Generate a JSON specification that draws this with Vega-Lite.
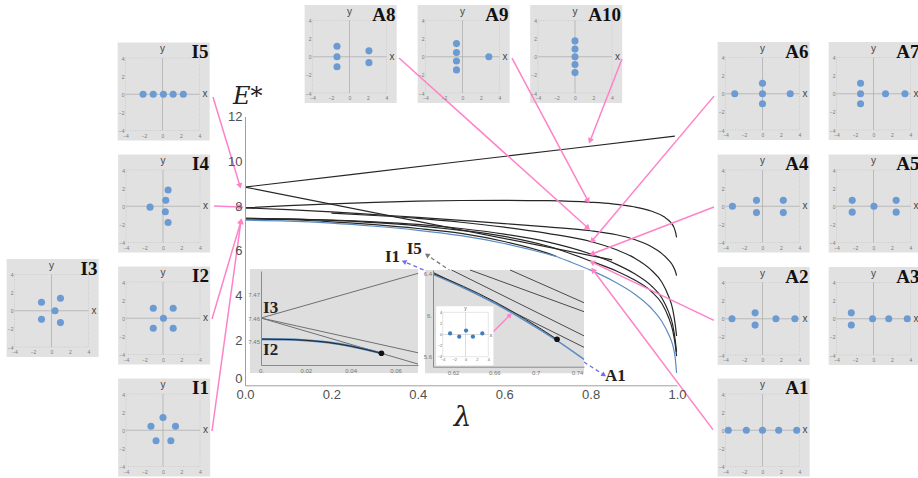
{
"$schema":"https://vega.github.io/schema/vega-lite/v6.json",
"width":918,"height":478,"autosize":{"type":"none"},"padding":0,"background":"white",
"config":{"numberFormat":"~g","view":{"stroke":null},"axis":{"labelFontSize":5,"labelColor":"#7a7a7a","domain":false,"ticks":false,"grid":false,"labelPadding":1.5,"zindex":1,"labelFlush":false,"labelOverlap":false,"labelFont":"Liberation Sans"},"axisX":{"labelPadding":2.5},"text":{"font":"Liberation Sans"}},
"resolve":{"scale":{"x":"independent","y":"independent"}},
"layer":[
{"layer":[
 {"data":{"values":[{}]},"mark":{"type":"rect","color":"#e1e1e1"},"encoding":{"x":{"datum":-4.85},"x2":{"datum":5.1},"y":{"datum":-5.1},"y2":{"datum":5.7}}},
 {"data":{"values":[{}]},"mark":{"type":"rect","filled":false,"color":"#bdbdbd","strokeWidth":0.6,"strokeDash":[1,1.5]},"encoding":{"x":{"datum":-4},"x2":{"datum":4},"y":{"datum":-4},"y2":{"datum":4}}},
 {"data":{"values":[{}]},"mark":{"type":"rule","color":"#a9a9a9","strokeWidth":0.7},"encoding":{"x":{"datum":0},"y":{"datum":-4},"y2":{"datum":4}}},
 {"data":{"values":[{}]},"mark":{"type":"rule","color":"#a9a9a9","strokeWidth":0.7},"encoding":{"x":{"datum":-4},"x2":{"datum":4},"y":{"datum":0}}},
 {"data":{"values":[{"x":-1.08,"y":0.93},{"x":0.97,"y":1.37},{"x":0.38,"y":0},{"x":-1.08,"y":-0.95},{"x":0.97,"y":-1.31}]},"mark":{"type":"circle","color":"#6b9bd2","opacity":1,"size":50},"encoding":{"x":{"field":"x","type":"quantitative","scale":{"domain":[-4,4],"range":[14.5,88.5],"nice":false,"zero":false},"axis":{"orient":"bottom","offset":-131,"values":[-4,-2,0,2,4],"title":null,"zindex":1}},"y":{"field":"y","type":"quantitative","scale":{"domain":[-4,4],"range":[347,274.5],"nice":false,"zero":false},"axis":{"orient":"left","offset":-14.5,"values":[-4,-2,0,2,4],"title":null,"zindex":1}}}},
 {"data":{"values":[{}]},"mark":{"type":"text","text":"y","fontSize":10,"color":"#444","baseline":"bottom","dy":-4},"encoding":{"x":{"datum":0},"y":{"datum":4}}},
 {"data":{"values":[{}]},"mark":{"type":"text","text":"x","fontSize":10,"color":"#444","align":"left","baseline":"middle","dx":3},"encoding":{"x":{"datum":4},"y":{"datum":0}}},
 {"data":{"values":[{}]},"mark":{"type":"text","text":"I3","font":"Liberation Serif","fontWeight":"bold","fontSize":19,"color":"#111","align":"right","baseline":"alphabetic","dx":9},"encoding":{"x":{"datum":4},"y":{"datum":4}}}
]},
{"layer":[
 {"data":{"values":[{}]},"mark":{"type":"rect","color":"#e1e1e1"},"encoding":{"x":{"datum":-4.85},"x2":{"datum":5.1},"y":{"datum":-5.1},"y2":{"datum":5.7}}},
 {"data":{"values":[{}]},"mark":{"type":"rect","filled":false,"color":"#bdbdbd","strokeWidth":0.6,"strokeDash":[1,1.5]},"encoding":{"x":{"datum":-4},"x2":{"datum":4},"y":{"datum":-4},"y2":{"datum":4}}},
 {"data":{"values":[{}]},"mark":{"type":"rule","color":"#a9a9a9","strokeWidth":0.7},"encoding":{"x":{"datum":0},"y":{"datum":-4},"y2":{"datum":4}}},
 {"data":{"values":[{}]},"mark":{"type":"rule","color":"#a9a9a9","strokeWidth":0.7},"encoding":{"x":{"datum":-4},"x2":{"datum":4},"y":{"datum":0}}},
 {"data":{"values":[{"x":-2.1,"y":0},{"x":-1.0,"y":0},{"x":0.1,"y":0},{"x":1.15,"y":0},{"x":2.25,"y":0}]},"mark":{"type":"circle","color":"#6b9bd2","opacity":1,"size":50},"encoding":{"x":{"field":"x","type":"quantitative","scale":{"domain":[-4,4],"range":[125.5,199.5],"nice":false,"zero":false},"axis":{"orient":"bottom","offset":-347.5,"values":[-4,-2,0,2,4],"title":null,"zindex":1}},"y":{"field":"y","type":"quantitative","scale":{"domain":[-4,4],"range":[130.5,58],"nice":false,"zero":false},"axis":{"orient":"left","offset":-125.5,"values":[-4,-2,0,2,4],"title":null,"zindex":1}}}},
 {"data":{"values":[{}]},"mark":{"type":"text","text":"y","fontSize":10,"color":"#444","baseline":"bottom","dy":-4},"encoding":{"x":{"datum":0},"y":{"datum":4}}},
 {"data":{"values":[{}]},"mark":{"type":"text","text":"x","fontSize":10,"color":"#444","align":"left","baseline":"middle","dx":3},"encoding":{"x":{"datum":4},"y":{"datum":0}}},
 {"data":{"values":[{}]},"mark":{"type":"text","text":"I5","font":"Liberation Serif","fontWeight":"bold","fontSize":19,"color":"#111","align":"right","baseline":"alphabetic","dx":9},"encoding":{"x":{"datum":4},"y":{"datum":4}}}
]},
{"layer":[
 {"data":{"values":[{}]},"mark":{"type":"rect","color":"#e1e1e1"},"encoding":{"x":{"datum":-4.85},"x2":{"datum":5.1},"y":{"datum":-5.1},"y2":{"datum":5.7}}},
 {"data":{"values":[{}]},"mark":{"type":"rect","filled":false,"color":"#bdbdbd","strokeWidth":0.6,"strokeDash":[1,1.5]},"encoding":{"x":{"datum":-4},"x2":{"datum":4},"y":{"datum":-4},"y2":{"datum":4}}},
 {"data":{"values":[{}]},"mark":{"type":"rule","color":"#a9a9a9","strokeWidth":0.7},"encoding":{"x":{"datum":0},"y":{"datum":-4},"y2":{"datum":4}}},
 {"data":{"values":[{}]},"mark":{"type":"rule","color":"#a9a9a9","strokeWidth":0.7},"encoding":{"x":{"datum":-4},"x2":{"datum":4},"y":{"datum":0}}},
 {"data":{"values":[{"x":-1.4,"y":-0.1},{"x":0.55,"y":1.8},{"x":0.3,"y":0.65},{"x":0.25,"y":-0.6},{"x":0.55,"y":-1.8}]},"mark":{"type":"circle","color":"#6b9bd2","opacity":1,"size":50},"encoding":{"x":{"field":"x","type":"quantitative","scale":{"domain":[-4,4],"range":[126,200],"nice":false,"zero":false},"axis":{"orient":"bottom","offset":-235.5,"values":[-4,-2,0,2,4],"title":null,"zindex":1}},"y":{"field":"y","type":"quantitative","scale":{"domain":[-4,4],"range":[242.5,170],"nice":false,"zero":false},"axis":{"orient":"left","offset":-126,"values":[-4,-2,0,2,4],"title":null,"zindex":1}}}},
 {"data":{"values":[{}]},"mark":{"type":"text","text":"y","fontSize":10,"color":"#444","baseline":"bottom","dy":-4},"encoding":{"x":{"datum":0},"y":{"datum":4}}},
 {"data":{"values":[{}]},"mark":{"type":"text","text":"x","fontSize":10,"color":"#444","align":"left","baseline":"middle","dx":3},"encoding":{"x":{"datum":4},"y":{"datum":0}}},
 {"data":{"values":[{}]},"mark":{"type":"text","text":"I4","font":"Liberation Serif","fontWeight":"bold","fontSize":19,"color":"#111","align":"right","baseline":"alphabetic","dx":9},"encoding":{"x":{"datum":4},"y":{"datum":4}}}
]},
{"layer":[
 {"data":{"values":[{}]},"mark":{"type":"rect","color":"#e1e1e1"},"encoding":{"x":{"datum":-4.85},"x2":{"datum":5.1},"y":{"datum":-5.1},"y2":{"datum":5.7}}},
 {"data":{"values":[{}]},"mark":{"type":"rect","filled":false,"color":"#bdbdbd","strokeWidth":0.6,"strokeDash":[1,1.5]},"encoding":{"x":{"datum":-4},"x2":{"datum":4},"y":{"datum":-4},"y2":{"datum":4}}},
 {"data":{"values":[{}]},"mark":{"type":"rule","color":"#a9a9a9","strokeWidth":0.7},"encoding":{"x":{"datum":0},"y":{"datum":-4},"y2":{"datum":4}}},
 {"data":{"values":[{}]},"mark":{"type":"rule","color":"#a9a9a9","strokeWidth":0.7},"encoding":{"x":{"datum":-4},"x2":{"datum":4},"y":{"datum":0}}},
 {"data":{"values":[{"x":-1.05,"y":1.1},{"x":1.1,"y":1.1},{"x":0.05,"y":0},{"x":-1.05,"y":-1.1},{"x":1.1,"y":-1.1}]},"mark":{"type":"circle","color":"#6b9bd2","opacity":1,"size":50},"encoding":{"x":{"field":"x","type":"quantitative","scale":{"domain":[-4,4],"range":[126,200],"nice":false,"zero":false},"axis":{"orient":"bottom","offset":-123.5,"values":[-4,-2,0,2,4],"title":null,"zindex":1}},"y":{"field":"y","type":"quantitative","scale":{"domain":[-4,4],"range":[354.5,282],"nice":false,"zero":false},"axis":{"orient":"left","offset":-126,"values":[-4,-2,0,2,4],"title":null,"zindex":1}}}},
 {"data":{"values":[{}]},"mark":{"type":"text","text":"y","fontSize":10,"color":"#444","baseline":"bottom","dy":-4},"encoding":{"x":{"datum":0},"y":{"datum":4}}},
 {"data":{"values":[{}]},"mark":{"type":"text","text":"x","fontSize":10,"color":"#444","align":"left","baseline":"middle","dx":3},"encoding":{"x":{"datum":4},"y":{"datum":0}}},
 {"data":{"values":[{}]},"mark":{"type":"text","text":"I2","font":"Liberation Serif","fontWeight":"bold","fontSize":19,"color":"#111","align":"right","baseline":"alphabetic","dx":9},"encoding":{"x":{"datum":4},"y":{"datum":4}}}
]},
{"layer":[
 {"data":{"values":[{}]},"mark":{"type":"rect","color":"#e1e1e1"},"encoding":{"x":{"datum":-4.85},"x2":{"datum":5.1},"y":{"datum":-5.1},"y2":{"datum":5.7}}},
 {"data":{"values":[{}]},"mark":{"type":"rect","filled":false,"color":"#bdbdbd","strokeWidth":0.6,"strokeDash":[1,1.5]},"encoding":{"x":{"datum":-4},"x2":{"datum":4},"y":{"datum":-4},"y2":{"datum":4}}},
 {"data":{"values":[{}]},"mark":{"type":"rule","color":"#a9a9a9","strokeWidth":0.7},"encoding":{"x":{"datum":0},"y":{"datum":-4},"y2":{"datum":4}}},
 {"data":{"values":[{}]},"mark":{"type":"rule","color":"#a9a9a9","strokeWidth":0.7},"encoding":{"x":{"datum":-4},"x2":{"datum":4},"y":{"datum":0}}},
 {"data":{"values":[{"x":0,"y":1.4},{"x":-1.3,"y":0.45},{"x":1.35,"y":0.45},{"x":-0.75,"y":-1.15},{"x":0.85,"y":-1.15}]},"mark":{"type":"circle","color":"#6b9bd2","opacity":1,"size":50},"encoding":{"x":{"field":"x","type":"quantitative","scale":{"domain":[-4,4],"range":[126,200],"nice":false,"zero":false},"axis":{"orient":"bottom","offset":-11.5,"values":[-4,-2,0,2,4],"title":null,"zindex":1}},"y":{"field":"y","type":"quantitative","scale":{"domain":[-4,4],"range":[466.5,394],"nice":false,"zero":false},"axis":{"orient":"left","offset":-126,"values":[-4,-2,0,2,4],"title":null,"zindex":1}}}},
 {"data":{"values":[{}]},"mark":{"type":"text","text":"y","fontSize":10,"color":"#444","baseline":"bottom","dy":-4},"encoding":{"x":{"datum":0},"y":{"datum":4}}},
 {"data":{"values":[{}]},"mark":{"type":"text","text":"x","fontSize":10,"color":"#444","align":"left","baseline":"middle","dx":3},"encoding":{"x":{"datum":4},"y":{"datum":0}}},
 {"data":{"values":[{}]},"mark":{"type":"text","text":"I1","font":"Liberation Serif","fontWeight":"bold","fontSize":19,"color":"#111","align":"right","baseline":"alphabetic","dx":9},"encoding":{"x":{"datum":4},"y":{"datum":4}}}
]},
{"layer":[
 {"data":{"values":[{}]},"mark":{"type":"rect","color":"#e1e1e1"},"encoding":{"x":{"datum":-4.85},"x2":{"datum":5.1},"y":{"datum":-5.1},"y2":{"datum":5.7}}},
 {"data":{"values":[{}]},"mark":{"type":"rect","filled":false,"color":"#bdbdbd","strokeWidth":0.6,"strokeDash":[1,1.5]},"encoding":{"x":{"datum":-4},"x2":{"datum":4},"y":{"datum":-4},"y2":{"datum":4}}},
 {"data":{"values":[{}]},"mark":{"type":"rule","color":"#a9a9a9","strokeWidth":0.7},"encoding":{"x":{"datum":0},"y":{"datum":-4},"y2":{"datum":4}}},
 {"data":{"values":[{}]},"mark":{"type":"rule","color":"#a9a9a9","strokeWidth":0.7},"encoding":{"x":{"datum":-4},"x2":{"datum":4},"y":{"datum":0}}},
 {"data":{"values":[{"x":-1.35,"y":1.15},{"x":-1.35,"y":0},{"x":-1.35,"y":-1.1},{"x":2.1,"y":0.65},{"x":2.1,"y":-0.65}]},"mark":{"type":"circle","color":"#6b9bd2","opacity":1,"size":50},"encoding":{"x":{"field":"x","type":"quantitative","scale":{"domain":[-4,4],"range":[312.5,386.5],"nice":false,"zero":false},"axis":{"orient":"bottom","offset":-385,"values":[-4,-2,0,2,4],"title":null,"zindex":1}},"y":{"field":"y","type":"quantitative","scale":{"domain":[-4,4],"range":[93,20.5],"nice":false,"zero":false},"axis":{"orient":"left","offset":-312.5,"values":[-4,-2,0,2,4],"title":null,"zindex":1}}}},
 {"data":{"values":[{}]},"mark":{"type":"text","text":"y","fontSize":10,"color":"#444","baseline":"bottom","dy":-4},"encoding":{"x":{"datum":0},"y":{"datum":4}}},
 {"data":{"values":[{}]},"mark":{"type":"text","text":"x","fontSize":10,"color":"#444","align":"left","baseline":"middle","dx":3},"encoding":{"x":{"datum":4},"y":{"datum":0}}},
 {"data":{"values":[{}]},"mark":{"type":"text","text":"A8","font":"Liberation Serif","fontWeight":"bold","fontSize":19,"color":"#111","align":"right","baseline":"alphabetic","dx":9},"encoding":{"x":{"datum":4},"y":{"datum":4}}}
]},
{"layer":[
 {"data":{"values":[{}]},"mark":{"type":"rect","color":"#e1e1e1"},"encoding":{"x":{"datum":-4.85},"x2":{"datum":5.1},"y":{"datum":-5.1},"y2":{"datum":5.7}}},
 {"data":{"values":[{}]},"mark":{"type":"rect","filled":false,"color":"#bdbdbd","strokeWidth":0.6,"strokeDash":[1,1.5]},"encoding":{"x":{"datum":-4},"x2":{"datum":4},"y":{"datum":-4},"y2":{"datum":4}}},
 {"data":{"values":[{}]},"mark":{"type":"rule","color":"#a9a9a9","strokeWidth":0.7},"encoding":{"x":{"datum":0},"y":{"datum":-4},"y2":{"datum":4}}},
 {"data":{"values":[{}]},"mark":{"type":"rule","color":"#a9a9a9","strokeWidth":0.7},"encoding":{"x":{"datum":-4},"x2":{"datum":4},"y":{"datum":0}}},
 {"data":{"values":[{"x":-0.65,"y":1.45},{"x":-0.65,"y":0.47},{"x":-0.65,"y":-0.47},{"x":-0.65,"y":-1.45},{"x":2.85,"y":0}]},"mark":{"type":"circle","color":"#6b9bd2","opacity":1,"size":50},"encoding":{"x":{"field":"x","type":"quantitative","scale":{"domain":[-4,4],"range":[425.5,499.5],"nice":false,"zero":false},"axis":{"orient":"bottom","offset":-385,"values":[-4,-2,0,2,4],"title":null,"zindex":1}},"y":{"field":"y","type":"quantitative","scale":{"domain":[-4,4],"range":[93,20.5],"nice":false,"zero":false},"axis":{"orient":"left","offset":-425.5,"values":[-4,-2,0,2,4],"title":null,"zindex":1}}}},
 {"data":{"values":[{}]},"mark":{"type":"text","text":"y","fontSize":10,"color":"#444","baseline":"bottom","dy":-4},"encoding":{"x":{"datum":0},"y":{"datum":4}}},
 {"data":{"values":[{}]},"mark":{"type":"text","text":"x","fontSize":10,"color":"#444","align":"left","baseline":"middle","dx":3},"encoding":{"x":{"datum":4},"y":{"datum":0}}},
 {"data":{"values":[{}]},"mark":{"type":"text","text":"A9","font":"Liberation Serif","fontWeight":"bold","fontSize":19,"color":"#111","align":"right","baseline":"alphabetic","dx":9},"encoding":{"x":{"datum":4},"y":{"datum":4}}}
]},
{"layer":[
 {"data":{"values":[{}]},"mark":{"type":"rect","color":"#e1e1e1"},"encoding":{"x":{"datum":-4.85},"x2":{"datum":5.1},"y":{"datum":-5.1},"y2":{"datum":5.7}}},
 {"data":{"values":[{}]},"mark":{"type":"rect","filled":false,"color":"#bdbdbd","strokeWidth":0.6,"strokeDash":[1,1.5]},"encoding":{"x":{"datum":-4},"x2":{"datum":4},"y":{"datum":-4},"y2":{"datum":4}}},
 {"data":{"values":[{}]},"mark":{"type":"rule","color":"#a9a9a9","strokeWidth":0.7},"encoding":{"x":{"datum":0},"y":{"datum":-4},"y2":{"datum":4}}},
 {"data":{"values":[{}]},"mark":{"type":"rule","color":"#a9a9a9","strokeWidth":0.7},"encoding":{"x":{"datum":-4},"x2":{"datum":4},"y":{"datum":0}}},
 {"data":{"values":[{"x":0,"y":1.75},{"x":0,"y":0.85},{"x":0,"y":0},{"x":0,"y":-0.85},{"x":0,"y":-1.75}]},"mark":{"type":"circle","color":"#6b9bd2","opacity":1,"size":50},"encoding":{"x":{"field":"x","type":"quantitative","scale":{"domain":[-4,4],"range":[538,612],"nice":false,"zero":false},"axis":{"orient":"bottom","offset":-385,"values":[-4,-2,0,2,4],"title":null,"zindex":1}},"y":{"field":"y","type":"quantitative","scale":{"domain":[-4,4],"range":[93,20.5],"nice":false,"zero":false},"axis":{"orient":"left","offset":-538,"values":[-4,-2,0,2,4],"title":null,"zindex":1}}}},
 {"data":{"values":[{}]},"mark":{"type":"text","text":"y","fontSize":10,"color":"#444","baseline":"bottom","dy":-4},"encoding":{"x":{"datum":0},"y":{"datum":4}}},
 {"data":{"values":[{}]},"mark":{"type":"text","text":"x","fontSize":10,"color":"#444","align":"left","baseline":"middle","dx":3},"encoding":{"x":{"datum":4},"y":{"datum":0}}},
 {"data":{"values":[{}]},"mark":{"type":"text","text":"A10","font":"Liberation Serif","fontWeight":"bold","fontSize":19,"color":"#111","align":"right","baseline":"alphabetic","dx":9},"encoding":{"x":{"datum":4},"y":{"datum":4}}}
]},
{"layer":[
 {"data":{"values":[{}]},"mark":{"type":"rect","color":"#e1e1e1"},"encoding":{"x":{"datum":-4.85},"x2":{"datum":5.1},"y":{"datum":-5.1},"y2":{"datum":5.7}}},
 {"data":{"values":[{}]},"mark":{"type":"rect","filled":false,"color":"#bdbdbd","strokeWidth":0.6,"strokeDash":[1,1.5]},"encoding":{"x":{"datum":-4},"x2":{"datum":4},"y":{"datum":-4},"y2":{"datum":4}}},
 {"data":{"values":[{}]},"mark":{"type":"rule","color":"#a9a9a9","strokeWidth":0.7},"encoding":{"x":{"datum":0},"y":{"datum":-4},"y2":{"datum":4}}},
 {"data":{"values":[{}]},"mark":{"type":"rule","color":"#a9a9a9","strokeWidth":0.7},"encoding":{"x":{"datum":-4},"x2":{"datum":4},"y":{"datum":0}}},
 {"data":{"values":[{"x":-3.0,"y":0},{"x":0,"y":1.15},{"x":0,"y":0},{"x":0,"y":-1.1},{"x":3.0,"y":0}]},"mark":{"type":"circle","color":"#6b9bd2","opacity":1,"size":50},"encoding":{"x":{"field":"x","type":"quantitative","scale":{"domain":[-4,4],"range":[725.5,799.5],"nice":false,"zero":false},"axis":{"orient":"bottom","offset":-348,"values":[-4,-2,0,2,4],"title":null,"zindex":1}},"y":{"field":"y","type":"quantitative","scale":{"domain":[-4,4],"range":[130,57.5],"nice":false,"zero":false},"axis":{"orient":"left","offset":-725.5,"values":[-4,-2,0,2,4],"title":null,"zindex":1}}}},
 {"data":{"values":[{}]},"mark":{"type":"text","text":"y","fontSize":10,"color":"#444","baseline":"bottom","dy":-4},"encoding":{"x":{"datum":0},"y":{"datum":4}}},
 {"data":{"values":[{}]},"mark":{"type":"text","text":"x","fontSize":10,"color":"#444","align":"left","baseline":"middle","dx":3},"encoding":{"x":{"datum":4},"y":{"datum":0}}},
 {"data":{"values":[{}]},"mark":{"type":"text","text":"A6","font":"Liberation Serif","fontWeight":"bold","fontSize":19,"color":"#111","align":"right","baseline":"alphabetic","dx":9},"encoding":{"x":{"datum":4},"y":{"datum":4}}}
]},
{"layer":[
 {"data":{"values":[{}]},"mark":{"type":"rect","color":"#e1e1e1"},"encoding":{"x":{"datum":-4.85},"x2":{"datum":5.1},"y":{"datum":-5.1},"y2":{"datum":5.7}}},
 {"data":{"values":[{}]},"mark":{"type":"rect","filled":false,"color":"#bdbdbd","strokeWidth":0.6,"strokeDash":[1,1.5]},"encoding":{"x":{"datum":-4},"x2":{"datum":4},"y":{"datum":-4},"y2":{"datum":4}}},
 {"data":{"values":[{}]},"mark":{"type":"rule","color":"#a9a9a9","strokeWidth":0.7},"encoding":{"x":{"datum":0},"y":{"datum":-4},"y2":{"datum":4}}},
 {"data":{"values":[{}]},"mark":{"type":"rule","color":"#a9a9a9","strokeWidth":0.7},"encoding":{"x":{"datum":-4},"x2":{"datum":4},"y":{"datum":0}}},
 {"data":{"values":[{"x":-1.4,"y":1.15},{"x":-1.4,"y":0},{"x":-1.4,"y":-1.1},{"x":1.3,"y":0},{"x":3.4,"y":0}]},"mark":{"type":"circle","color":"#6b9bd2","opacity":1,"size":50},"encoding":{"x":{"field":"x","type":"quantitative","scale":{"domain":[-4,4],"range":[836.5,910.5],"nice":false,"zero":false},"axis":{"orient":"bottom","offset":-348,"values":[-4,-2,0,2,4],"title":null,"zindex":1}},"y":{"field":"y","type":"quantitative","scale":{"domain":[-4,4],"range":[130,57.5],"nice":false,"zero":false},"axis":{"orient":"left","offset":-836.5,"values":[-4,-2,0,2,4],"title":null,"zindex":1}}}},
 {"data":{"values":[{}]},"mark":{"type":"text","text":"y","fontSize":10,"color":"#444","baseline":"bottom","dy":-4},"encoding":{"x":{"datum":0},"y":{"datum":4}}},
 {"data":{"values":[{}]},"mark":{"type":"text","text":"x","fontSize":10,"color":"#444","align":"left","baseline":"middle","dx":3},"encoding":{"x":{"datum":4},"y":{"datum":0}}},
 {"data":{"values":[{}]},"mark":{"type":"text","text":"A7","font":"Liberation Serif","fontWeight":"bold","fontSize":19,"color":"#111","align":"right","baseline":"alphabetic","dx":9},"encoding":{"x":{"datum":4},"y":{"datum":4}}}
]},
{"layer":[
 {"data":{"values":[{}]},"mark":{"type":"rect","color":"#e1e1e1"},"encoding":{"x":{"datum":-4.85},"x2":{"datum":5.1},"y":{"datum":-5.1},"y2":{"datum":5.7}}},
 {"data":{"values":[{}]},"mark":{"type":"rect","filled":false,"color":"#bdbdbd","strokeWidth":0.6,"strokeDash":[1,1.5]},"encoding":{"x":{"datum":-4},"x2":{"datum":4},"y":{"datum":-4},"y2":{"datum":4}}},
 {"data":{"values":[{}]},"mark":{"type":"rule","color":"#a9a9a9","strokeWidth":0.7},"encoding":{"x":{"datum":0},"y":{"datum":-4},"y2":{"datum":4}}},
 {"data":{"values":[{}]},"mark":{"type":"rule","color":"#a9a9a9","strokeWidth":0.7},"encoding":{"x":{"datum":-4},"x2":{"datum":4},"y":{"datum":0}}},
 {"data":{"values":[{"x":-3.25,"y":0},{"x":-0.65,"y":0.65},{"x":-0.65,"y":-0.7},{"x":2.25,"y":0.65},{"x":2.25,"y":-0.7}]},"mark":{"type":"circle","color":"#6b9bd2","opacity":1,"size":50},"encoding":{"x":{"field":"x","type":"quantitative","scale":{"domain":[-4,4],"range":[725.5,799.5],"nice":false,"zero":false},"axis":{"orient":"bottom","offset":-235.5,"values":[-4,-2,0,2,4],"title":null,"zindex":1}},"y":{"field":"y","type":"quantitative","scale":{"domain":[-4,4],"range":[242.5,170],"nice":false,"zero":false},"axis":{"orient":"left","offset":-725.5,"values":[-4,-2,0,2,4],"title":null,"zindex":1}}}},
 {"data":{"values":[{}]},"mark":{"type":"text","text":"y","fontSize":10,"color":"#444","baseline":"bottom","dy":-4},"encoding":{"x":{"datum":0},"y":{"datum":4}}},
 {"data":{"values":[{}]},"mark":{"type":"text","text":"x","fontSize":10,"color":"#444","align":"left","baseline":"middle","dx":3},"encoding":{"x":{"datum":4},"y":{"datum":0}}},
 {"data":{"values":[{}]},"mark":{"type":"text","text":"A4","font":"Liberation Serif","fontWeight":"bold","fontSize":19,"color":"#111","align":"right","baseline":"alphabetic","dx":9},"encoding":{"x":{"datum":4},"y":{"datum":4}}}
]},
{"layer":[
 {"data":{"values":[{}]},"mark":{"type":"rect","color":"#e1e1e1"},"encoding":{"x":{"datum":-4.85},"x2":{"datum":5.1},"y":{"datum":-5.1},"y2":{"datum":5.7}}},
 {"data":{"values":[{}]},"mark":{"type":"rect","filled":false,"color":"#bdbdbd","strokeWidth":0.6,"strokeDash":[1,1.5]},"encoding":{"x":{"datum":-4},"x2":{"datum":4},"y":{"datum":-4},"y2":{"datum":4}}},
 {"data":{"values":[{}]},"mark":{"type":"rule","color":"#a9a9a9","strokeWidth":0.7},"encoding":{"x":{"datum":0},"y":{"datum":-4},"y2":{"datum":4}}},
 {"data":{"values":[{}]},"mark":{"type":"rule","color":"#a9a9a9","strokeWidth":0.7},"encoding":{"x":{"datum":-4},"x2":{"datum":4},"y":{"datum":0}}},
 {"data":{"values":[{"x":-2.3,"y":0.65},{"x":-2.3,"y":-0.65},{"x":0.05,"y":0},{"x":2.45,"y":0.65},{"x":2.45,"y":-0.65}]},"mark":{"type":"circle","color":"#6b9bd2","opacity":1,"size":50},"encoding":{"x":{"field":"x","type":"quantitative","scale":{"domain":[-4,4],"range":[836.5,910.5],"nice":false,"zero":false},"axis":{"orient":"bottom","offset":-235.5,"values":[-4,-2,0,2,4],"title":null,"zindex":1}},"y":{"field":"y","type":"quantitative","scale":{"domain":[-4,4],"range":[242.5,170],"nice":false,"zero":false},"axis":{"orient":"left","offset":-836.5,"values":[-4,-2,0,2,4],"title":null,"zindex":1}}}},
 {"data":{"values":[{}]},"mark":{"type":"text","text":"y","fontSize":10,"color":"#444","baseline":"bottom","dy":-4},"encoding":{"x":{"datum":0},"y":{"datum":4}}},
 {"data":{"values":[{}]},"mark":{"type":"text","text":"x","fontSize":10,"color":"#444","align":"left","baseline":"middle","dx":3},"encoding":{"x":{"datum":4},"y":{"datum":0}}},
 {"data":{"values":[{}]},"mark":{"type":"text","text":"A5","font":"Liberation Serif","fontWeight":"bold","fontSize":19,"color":"#111","align":"right","baseline":"alphabetic","dx":9},"encoding":{"x":{"datum":4},"y":{"datum":4}}}
]},
{"layer":[
 {"data":{"values":[{}]},"mark":{"type":"rect","color":"#e1e1e1"},"encoding":{"x":{"datum":-4.85},"x2":{"datum":5.1},"y":{"datum":-5.1},"y2":{"datum":5.7}}},
 {"data":{"values":[{}]},"mark":{"type":"rect","filled":false,"color":"#bdbdbd","strokeWidth":0.6,"strokeDash":[1,1.5]},"encoding":{"x":{"datum":-4},"x2":{"datum":4},"y":{"datum":-4},"y2":{"datum":4}}},
 {"data":{"values":[{}]},"mark":{"type":"rule","color":"#a9a9a9","strokeWidth":0.7},"encoding":{"x":{"datum":0},"y":{"datum":-4},"y2":{"datum":4}}},
 {"data":{"values":[{}]},"mark":{"type":"rule","color":"#a9a9a9","strokeWidth":0.7},"encoding":{"x":{"datum":-4},"x2":{"datum":4},"y":{"datum":0}}},
 {"data":{"values":[{"x":-3.3,"y":0},{"x":-0.8,"y":0.65},{"x":-0.8,"y":-0.7},{"x":1.45,"y":0},{"x":3.5,"y":0}]},"mark":{"type":"circle","color":"#6b9bd2","opacity":1,"size":50},"encoding":{"x":{"field":"x","type":"quantitative","scale":{"domain":[-4,4],"range":[725.5,799.5],"nice":false,"zero":false},"axis":{"orient":"bottom","offset":-123,"values":[-4,-2,0,2,4],"title":null,"zindex":1}},"y":{"field":"y","type":"quantitative","scale":{"domain":[-4,4],"range":[355,282.5],"nice":false,"zero":false},"axis":{"orient":"left","offset":-725.5,"values":[-4,-2,0,2,4],"title":null,"zindex":1}}}},
 {"data":{"values":[{}]},"mark":{"type":"text","text":"y","fontSize":10,"color":"#444","baseline":"bottom","dy":-4},"encoding":{"x":{"datum":0},"y":{"datum":4}}},
 {"data":{"values":[{}]},"mark":{"type":"text","text":"x","fontSize":10,"color":"#444","align":"left","baseline":"middle","dx":3},"encoding":{"x":{"datum":4},"y":{"datum":0}}},
 {"data":{"values":[{}]},"mark":{"type":"text","text":"A2","font":"Liberation Serif","fontWeight":"bold","fontSize":19,"color":"#111","align":"right","baseline":"alphabetic","dx":9},"encoding":{"x":{"datum":4},"y":{"datum":4}}}
]},
{"layer":[
 {"data":{"values":[{}]},"mark":{"type":"rect","color":"#e1e1e1"},"encoding":{"x":{"datum":-4.85},"x2":{"datum":5.1},"y":{"datum":-5.1},"y2":{"datum":5.7}}},
 {"data":{"values":[{}]},"mark":{"type":"rect","filled":false,"color":"#bdbdbd","strokeWidth":0.6,"strokeDash":[1,1.5]},"encoding":{"x":{"datum":-4},"x2":{"datum":4},"y":{"datum":-4},"y2":{"datum":4}}},
 {"data":{"values":[{}]},"mark":{"type":"rule","color":"#a9a9a9","strokeWidth":0.7},"encoding":{"x":{"datum":0},"y":{"datum":-4},"y2":{"datum":4}}},
 {"data":{"values":[{}]},"mark":{"type":"rule","color":"#a9a9a9","strokeWidth":0.7},"encoding":{"x":{"datum":-4},"x2":{"datum":4},"y":{"datum":0}}},
 {"data":{"values":[{"x":-2.4,"y":0.65},{"x":-2.4,"y":-0.7},{"x":-0.1,"y":0},{"x":1.65,"y":0},{"x":3.65,"y":0}]},"mark":{"type":"circle","color":"#6b9bd2","opacity":1,"size":50},"encoding":{"x":{"field":"x","type":"quantitative","scale":{"domain":[-4,4],"range":[836.5,910.5],"nice":false,"zero":false},"axis":{"orient":"bottom","offset":-123,"values":[-4,-2,0,2,4],"title":null,"zindex":1}},"y":{"field":"y","type":"quantitative","scale":{"domain":[-4,4],"range":[355,282.5],"nice":false,"zero":false},"axis":{"orient":"left","offset":-836.5,"values":[-4,-2,0,2,4],"title":null,"zindex":1}}}},
 {"data":{"values":[{}]},"mark":{"type":"text","text":"y","fontSize":10,"color":"#444","baseline":"bottom","dy":-4},"encoding":{"x":{"datum":0},"y":{"datum":4}}},
 {"data":{"values":[{}]},"mark":{"type":"text","text":"x","fontSize":10,"color":"#444","align":"left","baseline":"middle","dx":3},"encoding":{"x":{"datum":4},"y":{"datum":0}}},
 {"data":{"values":[{}]},"mark":{"type":"text","text":"A3","font":"Liberation Serif","fontWeight":"bold","fontSize":19,"color":"#111","align":"right","baseline":"alphabetic","dx":9},"encoding":{"x":{"datum":4},"y":{"datum":4}}}
]},
{"layer":[
 {"data":{"values":[{}]},"mark":{"type":"rect","color":"#e1e1e1"},"encoding":{"x":{"datum":-4.85},"x2":{"datum":5.1},"y":{"datum":-5.1},"y2":{"datum":5.7}}},
 {"data":{"values":[{}]},"mark":{"type":"rect","filled":false,"color":"#bdbdbd","strokeWidth":0.6,"strokeDash":[1,1.5]},"encoding":{"x":{"datum":-4},"x2":{"datum":4},"y":{"datum":-4},"y2":{"datum":4}}},
 {"data":{"values":[{}]},"mark":{"type":"rule","color":"#a9a9a9","strokeWidth":0.7},"encoding":{"x":{"datum":0},"y":{"datum":-4},"y2":{"datum":4}}},
 {"data":{"values":[{}]},"mark":{"type":"rule","color":"#a9a9a9","strokeWidth":0.7},"encoding":{"x":{"datum":-4},"x2":{"datum":4},"y":{"datum":0}}},
 {"data":{"values":[{"x":-3.7,"y":0},{"x":-1.75,"y":0},{"x":0,"y":0},{"x":1.75,"y":0},{"x":3.7,"y":0}]},"mark":{"type":"circle","color":"#6b9bd2","opacity":1,"size":50},"encoding":{"x":{"field":"x","type":"quantitative","scale":{"domain":[-4,4],"range":[725.5,799.5],"nice":false,"zero":false},"axis":{"orient":"bottom","offset":-11.5,"values":[-4,-2,0,2,4],"title":null,"zindex":1}},"y":{"field":"y","type":"quantitative","scale":{"domain":[-4,4],"range":[466.5,394],"nice":false,"zero":false},"axis":{"orient":"left","offset":-725.5,"values":[-4,-2,0,2,4],"title":null,"zindex":1}}}},
 {"data":{"values":[{}]},"mark":{"type":"text","text":"y","fontSize":10,"color":"#444","baseline":"bottom","dy":-4},"encoding":{"x":{"datum":0},"y":{"datum":4}}},
 {"data":{"values":[{}]},"mark":{"type":"text","text":"x","fontSize":10,"color":"#444","align":"left","baseline":"middle","dx":3},"encoding":{"x":{"datum":4},"y":{"datum":0}}},
 {"data":{"values":[{}]},"mark":{"type":"text","text":"A1","font":"Liberation Serif","fontWeight":"bold","fontSize":19,"color":"#111","align":"right","baseline":"alphabetic","dx":9},"encoding":{"x":{"datum":4},"y":{"datum":4}}}
]},
{"layer":[
 {"data":{"values":[
  {"c":"T","l":0,"e":8.85},{"c":"T","l":0.25,"e":9.42},{"c":"T","l":0.5,"e":9.99},{"c":"T","l":0.75,"e":10.56},{"c":"T","l":0.995,"e":11.12},
  {"c":"B","l":0,"e":7.92},{"c":"B","l":0.1,"e":8.02},{"c":"B","l":0.2,"e":8.1},{"c":"B","l":0.3,"e":8.17},{"c":"B","l":0.4,"e":8.22},{"c":"B","l":0.5,"e":8.25},{"c":"B","l":0.6,"e":8.26},{"c":"B","l":0.7,"e":8.24},{"c":"B","l":0.8,"e":8.17},{"c":"B","l":0.85,"e":8.1},{"c":"B","l":0.9,"e":7.97},{"c":"B","l":0.94,"e":7.78},{"c":"B","l":0.97,"e":7.52},{"c":"B","l":0.985,"e":7.28},{"c":"B","l":0.993,"e":7.05},{"c":"B","l":0.997,"e":6.8},{"c":"B","l":0.999,"e":6.6},
  {"c":"C","l":0,"e":7.92},{"c":"C","l":0.1,"e":7.84},{"c":"C","l":0.2,"e":7.74},{"c":"C","l":0.3,"e":7.62},{"c":"C","l":0.4,"e":7.5},{"c":"C","l":0.5,"e":7.36},{"c":"C","l":0.6,"e":7.22},{"c":"C","l":0.7,"e":7.07},{"c":"C","l":0.8,"e":6.9},{"c":"C","l":0.86,"e":6.72},{"c":"C","l":0.9,"e":6.52},{"c":"C","l":0.94,"e":6.2},{"c":"C","l":0.965,"e":5.88},{"c":"C","l":0.98,"e":5.6},{"c":"C","l":0.99,"e":5.35},{"c":"C","l":0.996,"e":5.1},{"c":"C","l":0.999,"e":4.9},
  {"c":"S","l":0,"e":8.85},{"c":"S","l":0.85,"e":5.6},
  {"c":"D1","l":0.2,"e":7.69},{"c":"D1","l":0.3,"e":7.58},{"c":"D1","l":0.4,"e":7.45},{"c":"D1","l":0.5,"e":7.28},{"c":"D1","l":0.6,"e":7.06},{"c":"D1","l":0.7,"e":6.78},{"c":"D1","l":0.8,"e":6.42},{"c":"D1","l":0.86,"e":6.05},{"c":"D1","l":0.9,"e":5.7},{"c":"D1","l":0.94,"e":5.15},{"c":"D1","l":0.965,"e":4.6},{"c":"D1","l":0.98,"e":4.0},{"c":"D1","l":0.99,"e":3.4},{"c":"D1","l":0.996,"e":2.7},{"c":"D1","l":0.999,"e":2.2},
  {"c":"D2","l":0.056,"e":7.43},{"c":"D2","l":0.1,"e":7.42},{"c":"D2","l":0.2,"e":7.38},{"c":"D2","l":0.3,"e":7.3},{"c":"D2","l":0.4,"e":7.18},{"c":"D2","l":0.5,"e":7.0},{"c":"D2","l":0.6,"e":6.75},{"c":"D2","l":0.7,"e":6.4},{"c":"D2","l":0.8,"e":5.86},{"c":"D2","l":0.86,"e":5.4},{"c":"D2","l":0.9,"e":5.0},{"c":"D2","l":0.94,"e":4.45},{"c":"D2","l":0.965,"e":3.9},{"c":"D2","l":0.98,"e":3.3},{"c":"D2","l":0.99,"e":2.7},{"c":"D2","l":0.996,"e":2.0},{"c":"D2","l":0.999,"e":1.5},
  {"c":"D3","l":0,"e":7.46},{"c":"D3","l":0.1,"e":7.43},{"c":"D3","l":0.2,"e":7.36},{"c":"D3","l":0.3,"e":7.26},{"c":"D3","l":0.4,"e":7.12},{"c":"D3","l":0.5,"e":6.92},{"c":"D3","l":0.6,"e":6.65},{"c":"D3","l":0.7,"e":6.22},{"c":"D3","l":0.8,"e":5.55},{"c":"D3","l":0.86,"e":5.1},{"c":"D3","l":0.9,"e":4.72},{"c":"D3","l":0.94,"e":4.2},{"c":"D3","l":0.965,"e":3.65},{"c":"D3","l":0.98,"e":3.05},{"c":"D3","l":0.99,"e":2.45},{"c":"D3","l":0.996,"e":1.8},{"c":"D3","l":0.999,"e":1.3},
  {"c":"D4","l":0,"e":7.42},{"c":"D4","l":0.1,"e":7.39},{"c":"D4","l":0.2,"e":7.3},{"c":"D4","l":0.3,"e":7.17},{"c":"D4","l":0.4,"e":7.0},{"c":"D4","l":0.5,"e":6.78},{"c":"D4","l":0.6,"e":6.42},{"c":"D4","l":0.7,"e":5.9},{"c":"D4","l":0.72,"e":5.76},
  {"c":"BL","l":0,"e":7.37},{"c":"BL","l":0.1,"e":7.33},{"c":"BL","l":0.2,"e":7.24},{"c":"BL","l":0.3,"e":7.1},{"c":"BL","l":0.4,"e":6.92},{"c":"BL","l":0.5,"e":6.68},{"c":"BL","l":0.6,"e":6.33},{"c":"BL","l":0.7,"e":5.86},{"c":"BL","l":0.72,"e":5.75},{"c":"BL","l":0.75,"e":5.53},{"c":"BL","l":0.8,"e":5.14},{"c":"BL","l":0.85,"e":4.68},{"c":"BL","l":0.9,"e":4.1},{"c":"BL","l":0.94,"e":3.45},{"c":"BL","l":0.965,"e":2.85},{"c":"BL","l":0.98,"e":2.3},{"c":"BL","l":0.99,"e":1.8},{"c":"BL","l":0.996,"e":1.2},{"c":"BL","l":0.999,"e":0.55}
 ]},
 "mark":{"type":"line","strokeWidth":1.2,"interpolate":"monotone"},
 "encoding":{
  "x":{"field":"l","type":"quantitative","scale":{"domain":[0,1],"range":[245,677],"nice":false,"zero":false},"axis":{"orient":"bottom","offset":-92.7,"values":[0,0.2,0.4,0.6,0.8,1],"format":".1f","domain":true,"domainColor":"#a0a0a0","labelFontSize":13,"labelColor":"#505050","labelPadding":3,"zindex":1,"title":"λ","titleFont":"DejaVu Serif","titleFontStyle":"italic","titleFontWeight":"normal","titleFontSize":28,"titleColor":"#222","titleX":462,"titleY":40,"titleAlign":"center","titleBaseline":"alphabetic"}},
  "y":{"field":"e","type":"quantitative","scale":{"domain":[0,12],"range":[385.3,116.5],"nice":false,"zero":false},"axis":{"orient":"left","offset":-245,"values":[0,2,4,6,8,10,12],"domain":true,"domainColor":"#a0a0a0","labelFontSize":13,"labelColor":"#505050","labelPadding":3,"labelBaseline":{"condition":{"test":"datum.value == 0","value":"bottom"},"value":"middle"},"zindex":1,"title":"E*","titleFont":"DejaVu Serif","titleFontStyle":"italic","titleFontWeight":"normal","titleFontSize":24,"titleColor":"#222","titleAngle":0,"titleX":-12.5,"titleY":103,"titleAlign":"left","titleBaseline":"alphabetic"}},
  "color":{"field":"c","type":"nominal","scale":{"domain":["T","B","C","S","D1","D2","D3","D4","BL"],"range":["#262626","#262626","#262626","#262626","#262626","#262626","#262626","#262626","#5b8cc2"]},"legend":null}
 }},
 {"data":{"values":[
  {"from":"I5","l1":-0.0741,"e1":12.87,"l2":-0.0116,"e2":8.9},
  {"from":"I4","l1":-0.0718,"e1":8.0,"l2":-0.0093,"e2":7.96},
  {"from":"I2","l1":-0.0764,"e1":2.96,"l2":-0.0093,"e2":7.33},
  {"from":"I1","l1":-0.0764,"e1":-2.04,"l2":-0.0093,"e2":7.33},
  {"from":"A10","l1":0.8727,"e1":14.57,"l2":0.7986,"e2":10.91},
  {"from":"A9","l1":0.6181,"e1":14.61,"l2":0.794,"e2":8.23},
  {"from":"A8","l1":0.3565,"e1":14.61,"l2":0.794,"e2":7.02},
  {"from":"A6","l1":1.0856,"e1":12.91,"l2":0.8032,"e2":6.44},
  {"from":"A4","l1":1.0856,"e1":7.96,"l2":0.8032,"e2":5.86},
  {"from":"A2","l1":1.0856,"e1":2.9,"l2":0.8032,"e2":5.5},
  {"from":"A1","l1":1.0833,"e1":-1.98,"l2":0.8056,"e2":5.15}
 ]},
 "transform":[{"calculate":"atan2((datum.l2-datum.l1)*432,(datum.e2-datum.e1)*22.4)*180/PI","as":"ang"}],
 "layer":[
  {"mark":{"type":"rule","color":"#ff82c8","strokeWidth":1.5},"encoding":{"x":{"field":"l1","type":"quantitative"},"y":{"field":"e1","type":"quantitative"},"x2":{"field":"l2"},"y2":{"field":"e2"}}},
  {"mark":{"type":"point","shape":"triangle-up","filled":true,"size":40,"color":"#ff82c8","opacity":1},"encoding":{"x":{"field":"l2","type":"quantitative"},"y":{"field":"e2","type":"quantitative"},"angle":{"field":"ang","type":"quantitative","scale":null}}}
 ]},
 {"data":{"values":[
  {"to":"I1","l1":0.4282,"e1":5.03,"l2":0.368,"e2":5.52},
  {"to":"A1","l1":0.7847,"e1":1.04,"l2":0.831,"e2":0.46}
 ]},
 "transform":[{"calculate":"atan2((datum.l2-datum.l1)*432,(datum.e2-datum.e1)*22.4)*180/PI","as":"ang"}],
 "layer":[
  {"mark":{"type":"rule","color":"#6d6df0","strokeWidth":1.3,"strokeDash":[4,3]},"encoding":{"x":{"field":"l1","type":"quantitative"},"y":{"field":"e1","type":"quantitative"},"x2":{"field":"l2"},"y2":{"field":"e2"}}},
  {"mark":{"type":"point","shape":"triangle-up","filled":true,"size":30,"color":"#6d6df0","opacity":1},"encoding":{"x":{"field":"l2","type":"quantitative"},"y":{"field":"e2","type":"quantitative"},"angle":{"field":"ang","type":"quantitative","scale":null}}}
 ]},
 {"data":{"values":[
  {"to":"I5","l1":0.4785,"e1":5.07,"l2":0.4213,"e2":5.82}
 ]},
 "transform":[{"calculate":"atan2((datum.l2-datum.l1)*432,(datum.e2-datum.e1)*22.4)*180/PI","as":"ang"}],
 "layer":[
  {"mark":{"type":"rule","color":"#7a7a7a","strokeWidth":1.3,"strokeDash":[4,3]},"encoding":{"x":{"field":"l1","type":"quantitative"},"y":{"field":"e1","type":"quantitative"},"x2":{"field":"l2"},"y2":{"field":"e2"}}},
  {"mark":{"type":"point","shape":"triangle-up","filled":true,"size":30,"color":"#7a7a7a","opacity":1},"encoding":{"x":{"field":"l2","type":"quantitative"},"y":{"field":"e2","type":"quantitative"},"angle":{"field":"ang","type":"quantitative","scale":null}}}
 ]},
 {"data":{"values":[{"t":"I1","l":0.324,"e":5.52},{"t":"I5","l":0.3743,"e":5.86},{"t":"A1","l":0.8333,"e":0.205}]},
  "mark":{"type":"text","font":"Liberation Serif","fontWeight":"bold","fontSize":17,"color":"#222","align":"left","baseline":"alphabetic"},
  "encoding":{"x":{"field":"l","type":"quantitative"},"y":{"field":"e","type":"quantitative"},"text":{"field":"t"}}}
]},
{"layer":[
 {"data":{"values":[{}]},"mark":{"type":"rect","color":"#dedede"},"encoding":{"x":{"datum":-0.0049},"x2":{"datum":0.07},"y":{"datum":7.4366},"y2":{"datum":7.4809}}},
 {"data":{"values":[
  {"s":"up","l":0,"e":7.46},{"s":"up","l":0.07,"e":7.479},
  {"s":"a","l":0,"e":7.46},{"s":"a","l":0.07,"e":7.4452},
  {"s":"b","l":0,"e":7.46},{"s":"b","l":0.07,"e":7.4404}
 ]},
 "mark":{"type":"line","color":"#707070","strokeWidth":1},
 "encoding":{
  "x":{"field":"l","type":"quantitative","scale":{"domain":[0,0.07],"range":[261,418],"nice":false,"zero":false},"axis":{"orient":"bottom","offset":-113,"values":[0,0.02,0.04,0.06],"labelExpr":"datum.value == 0 ? '0.' : format(datum.value, '.2f')","domain":true,"domainColor":"#8a8a8a","labelFontSize":6,"labelColor":"#777","title":null,"zindex":1}},
  "y":{"field":"e","type":"quantitative","scale":{"domain":[7.44,7.48],"range":[365,271],"nice":false,"zero":false},"axis":{"orient":"left","offset":-261,"values":[7.45,7.46,7.47],"format":".2f","domain":true,"domainColor":"#8a8a8a","labelFontSize":6,"labelColor":"#777","title":null,"zindex":1}},
  "detail":{"field":"s"}
 }},
 {"data":{"values":[{"l":0,"e":7.451},{"l":0.01,"e":7.4509},{"l":0.02,"e":7.4505},{"l":0.03,"e":7.4496},{"l":0.04,"e":7.448},{"l":0.0537,"e":7.445}]},
  "layer":[
   {"mark":{"type":"line","color":"#4f7fb3","strokeWidth":2.2,"interpolate":"monotone"},"encoding":{"x":{"field":"l","type":"quantitative"},"y":{"field":"e","type":"quantitative"}}},
   {"mark":{"type":"line","color":"#1e1e1e","strokeWidth":0.9,"interpolate":"monotone"},"encoding":{"x":{"field":"l","type":"quantitative"},"y":{"field":"e","type":"quantitative"}}}
  ]},
 {"data":{"values":[{}]},"mark":{"type":"circle","color":"#111","opacity":1,"size":32},"encoding":{"x":{"datum":0.0537},"y":{"datum":7.445}}},
 {"data":{"values":[{"t":"I3","l":0.0009,"e":7.4621},{"t":"I2","l":0.0009,"e":7.4443}]},"mark":{"type":"text","font":"Liberation Serif","fontWeight":"bold","fontSize":17,"color":"#222","align":"left","baseline":"alphabetic"},"encoding":{"x":{"field":"l","type":"quantitative"},"y":{"field":"e","type":"quantitative"},"text":{"field":"t"}}}
]},
{"layer":[
 {"data":{"values":[{}]},"mark":{"type":"rect","color":"#dedede"},"encoding":{"x":{"datum":0.5929},"x2":{"datum":0.7468},"y":{"datum":5.441},"y2":{"datum":6.432}}},
 {"data":{"values":[
  {"s":"Ra","l":0.6752,"e":6.432},{"s":"Ra","l":0.7468,"e":6.118},
  {"s":"Rb","l":0.6365,"e":6.432},{"s":"Rb","l":0.7468,"e":6.032},
  {"s":"Rc","l":0.6186,"e":6.432},{"s":"Rc","l":0.7468,"e":5.8},
  {"s":"Rf","l":0.6006,"e":6.41},{"s":"Rf","l":0.7468,"e":5.69}
 ]},
 "mark":{"type":"line","color":"#4a4a4a","strokeWidth":1},
 "encoding":{
  "x":{"field":"l","type":"quantitative","scale":{"domain":[0.6006,0.7468],"range":[433,584],"nice":false,"zero":false},"axis":{"orient":"bottom","offset":-111.3,"values":[0.62,0.66,0.7,0.74],"labelExpr":"format(datum.value, '.2~f')","domain":true,"domainColor":"#8a8a8a","labelFontSize":6,"labelColor":"#777","title":null,"zindex":1}},
  "y":{"field":"e","type":"quantitative","scale":{"domain":[5.504,6.432],"range":[366.7,270],"nice":false,"zero":false},"axis":{"orient":"left","offset":-433,"values":[5.6,6,6.4],"labelExpr":"datum.value == 6 ? '6.' : format(datum.value, '.1f')","domain":true,"domainColor":"#8a8a8a","labelFontSize":6,"labelColor":"#777","title":null,"zindex":1}},
  "detail":{"field":"s"}
 }},
 {"data":{"values":[{"l":0.6006,"e":6.39},{"l":0.63,"e":6.262},{"l":0.66,"e":6.115},{"l":0.69,"e":5.945},{"l":0.7207,"e":5.755},{"l":0.7468,"e":5.575}]},
  "mark":{"type":"line","color":"#5b8cc2","strokeWidth":1.6,"interpolate":"monotone"},"encoding":{"x":{"field":"l","type":"quantitative"},"y":{"field":"e","type":"quantitative"}}},
 {"data":{"values":[{"l":0.6006,"e":6.4},{"l":0.63,"e":6.275},{"l":0.66,"e":6.13},{"l":0.69,"e":5.96},{"l":0.7207,"e":5.767}]},
  "mark":{"type":"line","color":"#2a2a2a","strokeWidth":1,"interpolate":"monotone"},"encoding":{"x":{"field":"l","type":"quantitative"},"y":{"field":"e","type":"quantitative"}}},
 {"data":{"values":[{}]},"mark":{"type":"circle","color":"#111","opacity":1,"size":32},"encoding":{"x":{"datum":0.7207},"y":{"datum":5.767}}},
 {"data":{"values":[{"l1":0.659,"e1":5.84,"l2":0.6752,"e2":6.0}]},
  "transform":[{"calculate":"atan2((datum.l2-datum.l1)*1033,(datum.e2-datum.e1)*104.2)*180/PI","as":"ang"}],
  "layer":[
   {"mark":{"type":"rule","color":"#ff82c8","strokeWidth":1.5},"encoding":{"x":{"field":"l1","type":"quantitative"},"y":{"field":"e1","type":"quantitative"},"x2":{"field":"l2"},"y2":{"field":"e2"}}},
   {"mark":{"type":"point","shape":"triangle-up","filled":true,"size":30,"color":"#ff82c8","opacity":1},"encoding":{"x":{"field":"l2","type":"quantitative"},"y":{"field":"e2","type":"quantitative"},"angle":{"field":"ang","type":"quantitative","scale":null}}}
  ]}
]},
{"layer":[
 {"data":{"values":[{}]},"mark":{"type":"rect","color":"#ffffff"},"encoding":{"x":{"datum":-5.15},"x2":{"datum":4.9},"y":{"datum":-5.6},"y2":{"datum":5.1}}},
 {"data":{"values":[{}]},"mark":{"type":"rect","filled":false,"color":"#cccccc","strokeWidth":0.5},"encoding":{"x":{"datum":-4},"x2":{"datum":4},"y":{"datum":-4},"y2":{"datum":4}}},
 {"data":{"values":[{}]},"mark":{"type":"rule","color":"#c4c4c4","strokeWidth":0.6},"encoding":{"x":{"datum":0},"y":{"datum":-4},"y2":{"datum":4}}},
 {"data":{"values":[{}]},"mark":{"type":"rule","color":"#c4c4c4","strokeWidth":0.6},"encoding":{"x":{"datum":-4},"x2":{"datum":4},"y":{"datum":0}}},
 {"data":{"values":[{"x":-2.7,"y":0.2},{"x":-1.1,"y":-0.4},{"x":0.1,"y":0.7},{"x":1.3,"y":-0.4},{"x":2.95,"y":0.2}]},"mark":{"type":"circle","color":"#3f7dc0","opacity":1,"size":18},"encoding":{"x":{"field":"x","type":"quantitative","scale":{"domain":[-4,4],"range":[442.7,488.3],"nice":false,"zero":false},"axis":{"orient":"bottom","offset":-121.3,"values":[-4,-2,0,2,4],"labelFontSize":3.8,"labelColor":"#666","labelPadding":1,"title":null,"zindex":1}},"y":{"field":"y","type":"quantitative","scale":{"domain":[-4,4],"range":[356.7,312.3],"nice":false,"zero":false},"axis":{"orient":"left","offset":-442.7,"values":[-4,-2,0,2,4],"labelFontSize":3.8,"labelColor":"#666","labelPadding":1,"title":null,"zindex":1}}}},
 {"data":{"values":[{}]},"mark":{"type":"text","text":"y","fontSize":5,"color":"#555","baseline":"bottom","dy":-1},"encoding":{"x":{"datum":0},"y":{"datum":4}}},
 {"data":{"values":[{}]},"mark":{"type":"text","text":"x","fontSize":5,"color":"#555","align":"left","baseline":"middle","dx":1.5},"encoding":{"x":{"datum":4},"y":{"datum":0}}}
]}
]
}
